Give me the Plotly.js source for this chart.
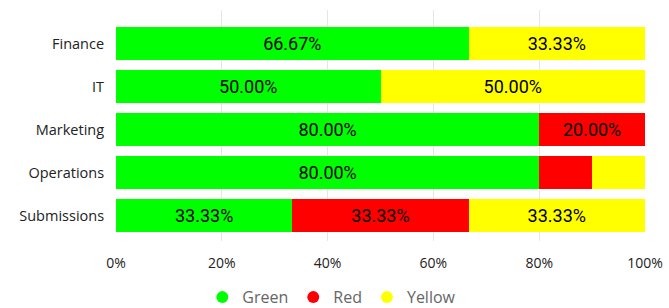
<!DOCTYPE html>
<html><head><meta charset="utf-8">
<script src="https://cdn.plot.ly/plotly-3.0.1.min.js"></script>
<style>html,body{margin:0;padding:0;background:#fff}#c{width:669px;height:308px}</style>
</head><body><div id="c"></div>
<script>
const categories = ["Finance", "IT", "Marketing", "Operations", "Submissions"];
const green = [66.67, 50.00, 80.00, 80.00, 33.33];
const red = [0, 0, 20.00, 10.00, 33.33];
const yellow = [33.33, 50.00, 0, 10.00, 33.33];
const seriesNames = ["Green", "Red", "Yellow"];
const seriesColors = ["#00ff00", "#ff0000", "#ffff00"];
const xTicks = [0, 20, 40, 60, 80, 100];
const xTickLabels = ["0%", "20%", "40%", "60%", "80%", "100%"];

const series = [green, red, yellow];
const labelFont = {family: "Roboto, sans-serif", size: 18, color: "#000"};
const traces = [];
series.forEach((vals, i) => {
  traces.push({
    type: "bar", orientation: "h", name: seriesNames[i],
    y: categories, x: vals,
    marker: {color: seriesColors[i]},
    text: vals.map(v => v >= 15 ? v.toFixed(2) + "%" : ""),
    textposition: "inside", insidetextanchor: "middle",
    textfont: labelFont, constraintext: "none",
    hoverinfo: "skip", showlegend: false
  });
});
series.forEach((vals, i) => {
  traces.push({
    type: "scatter", mode: "markers", name: seriesNames[i],
    x: [null], y: [null],
    marker: {color: seriesColors[i], size: 13, symbol: "circle"},
    showlegend: true, hoverinfo: "skip"
  });
});

const layout = {
  width: 669, height: 308,
  margin: {l: 116, r: 24, t: 10, b: 67},
  barmode: "stack", bargap: 0.23,
  paper_bgcolor: "#fff", plot_bgcolor: "#fff",
  font: {family: "Open Sans, sans-serif", size: 14, color: "#333"},
  xaxis: {
    range: [0, 100], tickvals: xTicks, ticktext: xTickLabels,
    showgrid: true, gridcolor: "#e6e6e6", zeroline: false,
    showline: false, ticks: "outside", ticklen: 9, tickcolor: "rgba(0,0,0,0)",
    tickfont: {family: "Open Sans, sans-serif", size: 14, color: "#222"},
    fixedrange: true
  },
  yaxis: {
    type: "category", categoryorder: "array", categoryarray: categories,
    range: [4.59, -0.78], showgrid: false, zeroline: false, showline: false,
    ticks: "outside", ticklen: 8, tickcolor: "rgba(0,0,0,0)",
    tickfont: {family: "Open Sans, sans-serif", size: 14.5, color: "#222"},
    fixedrange: true
  },
  showlegend: true,
  legend: {
    orientation: "h", xref: "container", yref: "container", traceorder: "normal",
    x: 0.496, xanchor: "center", y: 0.035, yanchor: "middle",
    font: {family: "Open Sans, sans-serif", size: 16, color: "#666"},
    itemwidth: 30, tracegroupgap: 0, itemsizing: "constant"
  }
};
Plotly.newPlot("c", traces, layout, {displayModeBar: false, staticPlot: true});
</script></body></html>
